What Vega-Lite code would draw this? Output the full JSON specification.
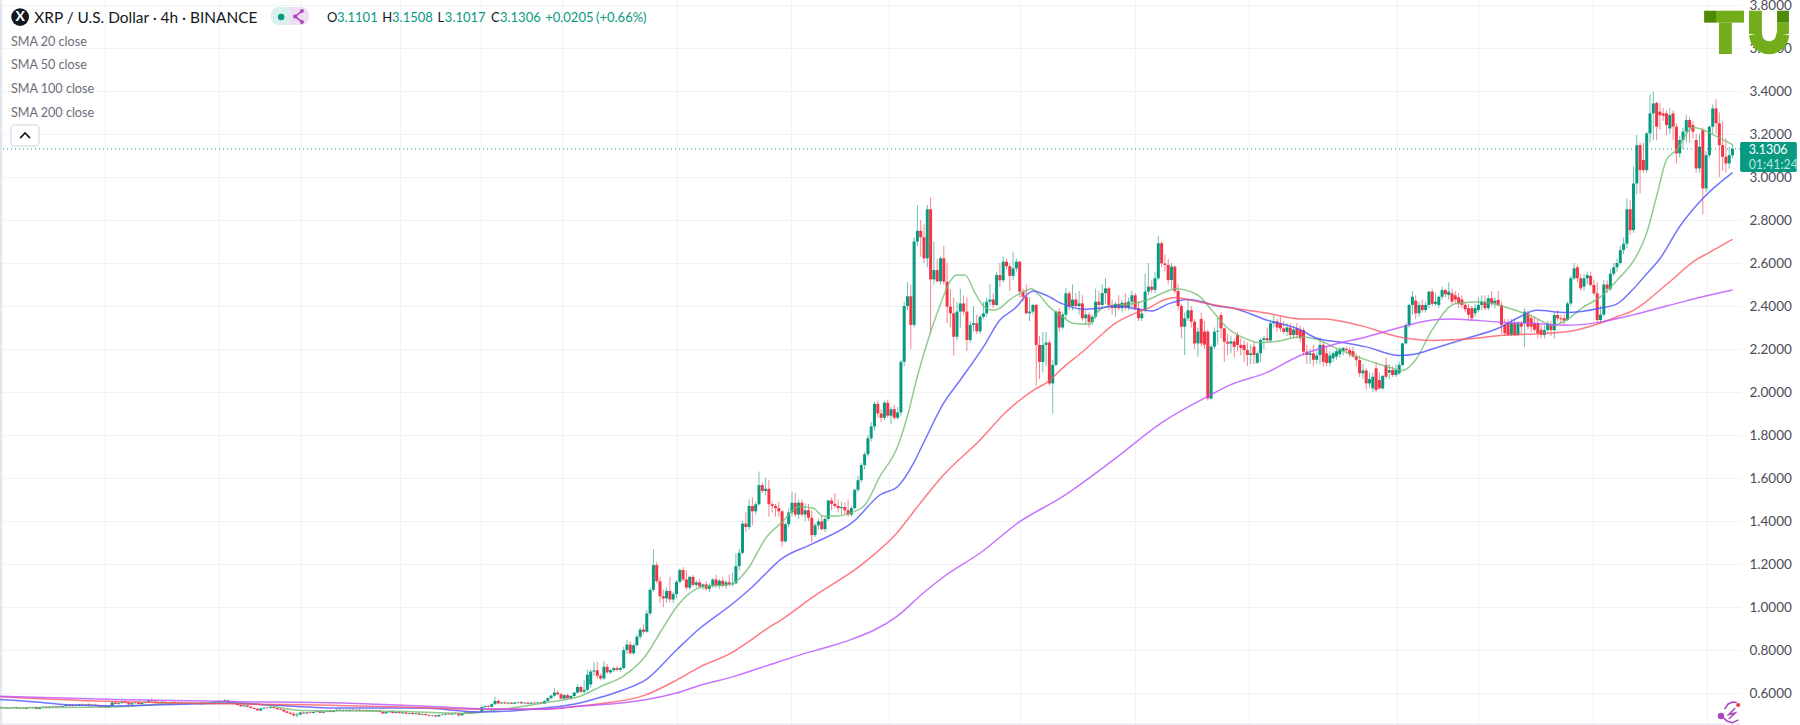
{
"$schema":"https://vega.github.io/schema/vega-lite/v6.json",
"description":"XRP / U.S. Dollar 4h candlesticks with SMA 20, 50, 100 and 200",
"width":1740,"height":725,
"autosize":{"type":"none"},
"padding":{"left":0,"top":0,"right":60,"bottom":0},
"background":"white",
"view":{"stroke":null},
"datasets":{
"candles":[
{"i":0,"o":0.535,"h":0.538,"l":0.526,"c":0.53},{"i":1,"o":0.53,"h":0.534,"l":0.527,"c":0.532},{"i":2,"o":0.532,"h":0.536,"l":0.528,"c":0.528},{"i":3,"o":0.528,"h":0.533,"l":0.526,"c":0.531},{"i":4,"o":0.531,"h":0.536,"l":0.529,"c":0.534},{"i":5,"o":0.534,"h":0.536,"l":0.526,"c":0.528},{"i":6,"o":0.528,"h":0.533,"l":0.524,"c":0.53},{"i":7,"o":0.53,"h":0.534,"l":0.527,"c":0.527},{"i":8,"o":0.527,"h":0.535,"l":0.525,"c":0.533},{"i":9,"o":0.533,"h":0.537,"l":0.53,"c":0.531},
{"i":10,"o":0.531,"h":0.536,"l":0.528,"c":0.535},{"i":11,"o":0.535,"h":0.538,"l":0.524,"c":0.526},{"i":12,"o":0.526,"h":0.536,"l":0.524,"c":0.534},{"i":13,"o":0.534,"h":0.539,"l":0.531,"c":0.536},{"i":14,"o":0.536,"h":0.54,"l":0.53,"c":0.532},{"i":15,"o":0.532,"h":0.538,"l":0.53,"c":0.537},{"i":16,"o":0.537,"h":0.541,"l":0.532,"c":0.534},{"i":17,"o":0.534,"h":0.54,"l":0.532,"c":0.538},{"i":18,"o":0.538,"h":0.542,"l":0.534,"c":0.535},{"i":19,"o":0.535,"h":0.54,"l":0.533,"c":0.539},
{"i":20,"o":0.539,"h":0.55,"l":0.536,"c":0.544},{"i":21,"o":0.544,"h":0.548,"l":0.538,"c":0.54},{"i":22,"o":0.54,"h":0.546,"l":0.537,"c":0.545},{"i":23,"o":0.545,"h":0.55,"l":0.54,"c":0.542},{"i":24,"o":0.542,"h":0.548,"l":0.54,"c":0.547},{"i":25,"o":0.547,"h":0.552,"l":0.543,"c":0.545},{"i":26,"o":0.545,"h":0.55,"l":0.542,"c":0.548},{"i":27,"o":0.548,"h":0.552,"l":0.543,"c":0.544},{"i":28,"o":0.544,"h":0.549,"l":0.54,"c":0.546},{"i":29,"o":0.546,"h":0.55,"l":0.54,"c":0.541},
{"i":30,"o":0.541,"h":0.546,"l":0.534,"c":0.536},{"i":31,"o":0.536,"h":0.543,"l":0.533,"c":0.541},{"i":32,"o":0.541,"h":0.546,"l":0.532,"c":0.534},{"i":33,"o":0.534,"h":0.542,"l":0.53,"c":0.54},{"i":34,"o":0.54,"h":0.562,"l":0.538,"c":0.556},{"i":35,"o":0.556,"h":0.562,"l":0.548,"c":0.55},{"i":36,"o":0.55,"h":0.557,"l":0.545,"c":0.555},{"i":37,"o":0.555,"h":0.566,"l":0.55,"c":0.56},{"i":38,"o":0.56,"h":0.566,"l":0.552,"c":0.555},{"i":39,"o":0.555,"h":0.558,"l":0.545,"c":0.547},
{"i":40,"o":0.547,"h":0.557,"l":0.544,"c":0.553},{"i":41,"o":0.553,"h":0.56,"l":0.55,"c":0.556},{"i":42,"o":0.556,"h":0.56,"l":0.546,"c":0.549},{"i":43,"o":0.549,"h":0.558,"l":0.547,"c":0.555},{"i":44,"o":0.555,"h":0.562,"l":0.552,"c":0.558},{"i":45,"o":0.558,"h":0.572,"l":0.555,"c":0.564},{"i":46,"o":0.564,"h":0.574,"l":0.558,"c":0.561},{"i":47,"o":0.561,"h":0.566,"l":0.552,"c":0.556},{"i":48,"o":0.556,"h":0.563,"l":0.55,"c":0.552},{"i":49,"o":0.552,"h":0.562,"l":0.55,"c":0.559},
{"i":50,"o":0.559,"h":0.565,"l":0.552,"c":0.554},{"i":51,"o":0.554,"h":0.56,"l":0.549,"c":0.551},{"i":52,"o":0.551,"h":0.561,"l":0.549,"c":0.558},{"i":53,"o":0.558,"h":0.565,"l":0.552,"c":0.553},{"i":54,"o":0.553,"h":0.56,"l":0.55,"c":0.556},{"i":55,"o":0.556,"h":0.56,"l":0.548,"c":0.55},{"i":56,"o":0.55,"h":0.557,"l":0.547,"c":0.555},{"i":57,"o":0.555,"h":0.558,"l":0.548,"c":0.549},{"i":58,"o":0.549,"h":0.556,"l":0.546,"c":0.554},{"i":59,"o":0.554,"h":0.558,"l":0.547,"c":0.549},
{"i":60,"o":0.549,"h":0.555,"l":0.545,"c":0.552},{"i":61,"o":0.552,"h":0.557,"l":0.546,"c":0.548},{"i":62,"o":0.548,"h":0.556,"l":0.546,"c":0.554},{"i":63,"o":0.554,"h":0.558,"l":0.549,"c":0.55},{"i":64,"o":0.55,"h":0.559,"l":0.548,"c":0.556},{"i":65,"o":0.556,"h":0.563,"l":0.552,"c":0.56},{"i":66,"o":0.56,"h":0.568,"l":0.556,"c":0.557},{"i":67,"o":0.557,"h":0.566,"l":0.555,"c":0.563},{"i":68,"o":0.563,"h":0.572,"l":0.558,"c":0.566},{"i":69,"o":0.566,"h":0.568,"l":0.555,"c":0.557},
{"i":70,"o":0.557,"h":0.562,"l":0.552,"c":0.56},{"i":71,"o":0.56,"h":0.563,"l":0.552,"c":0.553},{"i":72,"o":0.553,"h":0.558,"l":0.542,"c":0.544},{"i":73,"o":0.544,"h":0.55,"l":0.536,"c":0.538},{"i":74,"o":0.538,"h":0.545,"l":0.534,"c":0.542},{"i":75,"o":0.542,"h":0.546,"l":0.534,"c":0.536},{"i":76,"o":0.536,"h":0.54,"l":0.528,"c":0.53},{"i":77,"o":0.53,"h":0.534,"l":0.524,"c":0.526},{"i":78,"o":0.526,"h":0.532,"l":0.516,"c":0.519},{"i":79,"o":0.519,"h":0.531,"l":0.517,"c":0.528},
{"i":80,"o":0.528,"h":0.535,"l":0.524,"c":0.532},{"i":81,"o":0.532,"h":0.536,"l":0.526,"c":0.53},{"i":82,"o":0.53,"h":0.536,"l":0.528,"c":0.534},{"i":83,"o":0.534,"h":0.538,"l":0.528,"c":0.53},{"i":84,"o":0.53,"h":0.533,"l":0.522,"c":0.525},{"i":85,"o":0.525,"h":0.53,"l":0.52,"c":0.522},{"i":86,"o":0.522,"h":0.526,"l":0.512,"c":0.514},{"i":87,"o":0.514,"h":0.52,"l":0.506,"c":0.508},{"i":88,"o":0.508,"h":0.514,"l":0.5,"c":0.503},{"i":89,"o":0.503,"h":0.51,"l":0.49,"c":0.496},
{"i":90,"o":0.496,"h":0.508,"l":0.486,"c":0.5},{"i":91,"o":0.5,"h":0.512,"l":0.497,"c":0.509},{"i":92,"o":0.509,"h":0.514,"l":0.503,"c":0.505},{"i":93,"o":0.505,"h":0.512,"l":0.503,"c":0.51},{"i":94,"o":0.51,"h":0.515,"l":0.505,"c":0.507},{"i":95,"o":0.507,"h":0.514,"l":0.505,"c":0.512},{"i":96,"o":0.512,"h":0.518,"l":0.508,"c":0.515},{"i":97,"o":0.515,"h":0.52,"l":0.506,"c":0.508},{"i":98,"o":0.508,"h":0.516,"l":0.506,"c":0.514},{"i":99,"o":0.514,"h":0.52,"l":0.51,"c":0.517},
{"i":100,"o":0.517,"h":0.522,"l":0.51,"c":0.512},{"i":101,"o":0.512,"h":0.52,"l":0.51,"c":0.518},{"i":102,"o":0.518,"h":0.526,"l":0.514,"c":0.522},{"i":103,"o":0.522,"h":0.528,"l":0.516,"c":0.518},{"i":104,"o":0.518,"h":0.524,"l":0.514,"c":0.521},{"i":105,"o":0.521,"h":0.526,"l":0.516,"c":0.517},{"i":106,"o":0.517,"h":0.524,"l":0.514,"c":0.522},{"i":107,"o":0.522,"h":0.528,"l":0.518,"c":0.519},{"i":108,"o":0.519,"h":0.524,"l":0.514,"c":0.522},{"i":109,"o":0.522,"h":0.526,"l":0.516,"c":0.517},
{"i":110,"o":0.517,"h":0.522,"l":0.514,"c":0.52},{"i":111,"o":0.52,"h":0.524,"l":0.515,"c":0.516},{"i":112,"o":0.516,"h":0.522,"l":0.513,"c":0.519},{"i":113,"o":0.519,"h":0.523,"l":0.514,"c":0.515},{"i":114,"o":0.515,"h":0.52,"l":0.512,"c":0.518},{"i":115,"o":0.518,"h":0.521,"l":0.512,"c":0.513},{"i":116,"o":0.513,"h":0.516,"l":0.502,"c":0.505},{"i":117,"o":0.505,"h":0.514,"l":0.503,"c":0.511},{"i":118,"o":0.511,"h":0.517,"l":0.507,"c":0.514},{"i":119,"o":0.514,"h":0.518,"l":0.505,"c":0.507},
{"i":120,"o":0.507,"h":0.513,"l":0.504,"c":0.511},{"i":121,"o":0.511,"h":0.515,"l":0.505,"c":0.506},{"i":122,"o":0.506,"h":0.512,"l":0.503,"c":0.51},{"i":123,"o":0.51,"h":0.513,"l":0.502,"c":0.504},{"i":124,"o":0.504,"h":0.51,"l":0.5,"c":0.507},{"i":125,"o":0.507,"h":0.51,"l":0.5,"c":0.502},{"i":126,"o":0.502,"h":0.508,"l":0.498,"c":0.505},{"i":127,"o":0.505,"h":0.509,"l":0.497,"c":0.499},{"i":128,"o":0.499,"h":0.505,"l":0.494,"c":0.502},{"i":129,"o":0.502,"h":0.506,"l":0.495,"c":0.497},
{"i":130,"o":0.497,"h":0.502,"l":0.49,"c":0.494},{"i":131,"o":0.494,"h":0.5,"l":0.488,"c":0.496},{"i":132,"o":0.496,"h":0.5,"l":0.487,"c":0.491},{"i":133,"o":0.491,"h":0.5,"l":0.489,"c":0.498},{"i":134,"o":0.498,"h":0.503,"l":0.494,"c":0.5},{"i":135,"o":0.5,"h":0.506,"l":0.495,"c":0.503},{"i":136,"o":0.503,"h":0.508,"l":0.498,"c":0.5},{"i":137,"o":0.5,"h":0.508,"l":0.498,"c":0.505},{"i":138,"o":0.505,"h":0.512,"l":0.5,"c":0.502},{"i":139,"o":0.502,"h":0.51,"l":0.49,"c":0.496},
{"i":140,"o":0.496,"h":0.508,"l":0.494,"c":0.506},{"i":141,"o":0.506,"h":0.514,"l":0.502,"c":0.51},{"i":142,"o":0.51,"h":0.516,"l":0.503,"c":0.505},{"i":143,"o":0.505,"h":0.514,"l":0.503,"c":0.512},{"i":144,"o":0.512,"h":0.518,"l":0.504,"c":0.507},{"i":145,"o":0.507,"h":0.515,"l":0.505,"c":0.512},{"i":146,"o":0.512,"h":0.54,"l":0.51,"c":0.535},{"i":147,"o":0.535,"h":0.544,"l":0.53,"c":0.539},{"i":148,"o":0.539,"h":0.544,"l":0.532,"c":0.536},{"i":149,"o":0.536,"h":0.552,"l":0.534,"c":0.548},
{"i":150,"o":0.548,"h":0.583,"l":0.545,"c":0.563},{"i":151,"o":0.563,"h":0.57,"l":0.548,"c":0.552},{"i":152,"o":0.552,"h":0.558,"l":0.548,"c":0.556},{"i":153,"o":0.556,"h":0.562,"l":0.55,"c":0.551},{"i":154,"o":0.551,"h":0.557,"l":0.547,"c":0.555},{"i":155,"o":0.555,"h":0.558,"l":0.549,"c":0.55},{"i":156,"o":0.55,"h":0.558,"l":0.548,"c":0.556},{"i":157,"o":0.556,"h":0.56,"l":0.55,"c":0.558},{"i":158,"o":0.558,"h":0.562,"l":0.55,"c":0.552},{"i":159,"o":0.552,"h":0.558,"l":0.548,"c":0.555},
{"i":160,"o":0.555,"h":0.559,"l":0.549,"c":0.55},{"i":161,"o":0.55,"h":0.558,"l":0.548,"c":0.555},{"i":162,"o":0.555,"h":0.56,"l":0.55,"c":0.552},{"i":163,"o":0.552,"h":0.558,"l":0.549,"c":0.556},{"i":164,"o":0.556,"h":0.56,"l":0.55,"c":0.551},{"i":165,"o":0.551,"h":0.566,"l":0.549,"c":0.563},{"i":166,"o":0.563,"h":0.58,"l":0.558,"c":0.576},{"i":167,"o":0.576,"h":0.592,"l":0.57,"c":0.588},{"i":168,"o":0.588,"h":0.622,"l":0.582,"c":0.602},{"i":169,"o":0.602,"h":0.612,"l":0.59,"c":0.594},
{"i":170,"o":0.594,"h":0.6,"l":0.57,"c":0.574},{"i":171,"o":0.574,"h":0.594,"l":0.57,"c":0.59},{"i":172,"o":0.59,"h":0.596,"l":0.572,"c":0.576},{"i":173,"o":0.576,"h":0.59,"l":0.572,"c":0.586},{"i":174,"o":0.586,"h":0.606,"l":0.582,"c":0.602},{"i":175,"o":0.602,"h":0.64,"l":0.598,"c":0.628},{"i":176,"o":0.628,"h":0.634,"l":0.6,"c":0.606},{"i":177,"o":0.606,"h":0.66,"l":0.6,"c":0.615},{"i":178,"o":0.615,"h":0.71,"l":0.61,"c":0.685},{"i":179,"o":0.64,"h":0.71,"l":0.625,"c":0.7},
{"i":180,"o":0.7,"h":0.745,"l":0.68,"c":0.705},{"i":181,"o":0.705,"h":0.746,"l":0.668,"c":0.68},{"i":182,"o":0.68,"h":0.69,"l":0.66,"c":0.668},{"i":183,"o":0.668,"h":0.75,"l":0.66,"c":0.722},{"i":184,"o":0.722,"h":0.735,"l":0.69,"c":0.696},{"i":185,"o":0.696,"h":0.712,"l":0.688,"c":0.706},{"i":186,"o":0.706,"h":0.722,"l":0.698,"c":0.716},{"i":187,"o":0.716,"h":0.728,"l":0.7,"c":0.708},{"i":188,"o":0.708,"h":0.722,"l":0.7,"c":0.716},{"i":189,"o":0.716,"h":0.815,"l":0.71,"c":0.8},
{"i":190,"o":0.8,"h":0.846,"l":0.782,"c":0.825},{"i":191,"o":0.825,"h":0.84,"l":0.78,"c":0.785},{"i":192,"o":0.785,"h":0.83,"l":0.778,"c":0.822},{"i":193,"o":0.822,"h":0.872,"l":0.815,"c":0.862},{"i":194,"o":0.862,"h":0.905,"l":0.85,"c":0.895},{"i":195,"o":0.895,"h":0.92,"l":0.875,"c":0.885},{"i":196,"o":0.885,"h":0.985,"l":0.88,"c":0.97},{"i":197,"o":0.97,"h":1.09,"l":0.96,"c":1.08},{"i":198,"o":1.08,"h":1.27,"l":1.07,"c":1.195},{"i":199,"o":1.195,"h":1.21,"l":1.11,"c":1.12},
{"i":200,"o":1.12,"h":1.14,"l":1.02,"c":1.05},{"i":201,"o":1.05,"h":1.08,"l":1.0,"c":1.04},{"i":202,"o":1.04,"h":1.09,"l":1.02,"c":1.075},{"i":203,"o":1.075,"h":1.14,"l":1.02,"c":1.035},{"i":204,"o":1.035,"h":1.07,"l":1.02,"c":1.06},{"i":205,"o":1.06,"h":1.125,"l":1.04,"c":1.117},{"i":206,"o":1.117,"h":1.18,"l":1.11,"c":1.172},{"i":207,"o":1.172,"h":1.185,"l":1.12,"c":1.128},{"i":208,"o":1.128,"h":1.17,"l":1.08,"c":1.09},{"i":209,"o":1.09,"h":1.145,"l":1.08,"c":1.14},
{"i":210,"o":1.14,"h":1.15,"l":1.095,"c":1.103},{"i":211,"o":1.103,"h":1.125,"l":1.09,"c":1.115},{"i":212,"o":1.115,"h":1.13,"l":1.09,"c":1.095},{"i":213,"o":1.095,"h":1.11,"l":1.08,"c":1.105},{"i":214,"o":1.105,"h":1.12,"l":1.075,"c":1.085},{"i":215,"o":1.085,"h":1.11,"l":1.07,"c":1.1},{"i":216,"o":1.1,"h":1.135,"l":1.09,"c":1.128},{"i":217,"o":1.128,"h":1.15,"l":1.09,"c":1.098},{"i":218,"o":1.098,"h":1.13,"l":1.085,"c":1.122},{"i":219,"o":1.122,"h":1.14,"l":1.09,"c":1.1},
{"i":220,"o":1.1,"h":1.125,"l":1.085,"c":1.115},{"i":221,"o":1.115,"h":1.15,"l":1.095,"c":1.105},{"i":222,"o":1.105,"h":1.16,"l":1.095,"c":1.11},{"i":223,"o":1.11,"h":1.25,"l":1.105,"c":1.19},{"i":224,"o":1.19,"h":1.27,"l":1.17,"c":1.252},{"i":225,"o":1.252,"h":1.4,"l":1.245,"c":1.388},{"i":226,"o":1.388,"h":1.44,"l":1.35,"c":1.372},{"i":227,"o":1.372,"h":1.5,"l":1.36,"c":1.47},{"i":228,"o":1.47,"h":1.51,"l":1.38,"c":1.445},{"i":229,"o":1.445,"h":1.49,"l":1.43,"c":1.478},
{"i":230,"o":1.478,"h":1.63,"l":1.47,"c":1.567},{"i":231,"o":1.567,"h":1.58,"l":1.53,"c":1.54},{"i":232,"o":1.54,"h":1.6,"l":1.52,"c":1.55},{"i":233,"o":1.55,"h":1.59,"l":1.42,"c":1.478},{"i":234,"o":1.478,"h":1.49,"l":1.44,"c":1.47},{"i":235,"o":1.47,"h":1.48,"l":1.42,"c":1.46},{"i":236,"o":1.46,"h":1.49,"l":1.42,"c":1.445},{"i":237,"o":1.445,"h":1.45,"l":1.28,"c":1.305},{"i":238,"o":1.305,"h":1.395,"l":1.3,"c":1.385},{"i":239,"o":1.385,"h":1.46,"l":1.37,"c":1.44},
{"i":240,"o":1.44,"h":1.536,"l":1.42,"c":1.485},{"i":241,"o":1.485,"h":1.53,"l":1.42,"c":1.43},{"i":242,"o":1.43,"h":1.5,"l":1.41,"c":1.485},{"i":243,"o":1.485,"h":1.5,"l":1.42,"c":1.43},{"i":244,"o":1.43,"h":1.48,"l":1.4,"c":1.45},{"i":245,"o":1.45,"h":1.48,"l":1.4,"c":1.415},{"i":246,"o":1.415,"h":1.45,"l":1.3,"c":1.335},{"i":247,"o":1.335,"h":1.39,"l":1.325,"c":1.38},{"i":248,"o":1.38,"h":1.41,"l":1.36,"c":1.398},{"i":249,"o":1.398,"h":1.425,"l":1.355,"c":1.362},
{"i":250,"o":1.362,"h":1.42,"l":1.35,"c":1.41},{"i":251,"o":1.41,"h":1.5,"l":1.4,"c":1.495},{"i":252,"o":1.495,"h":1.51,"l":1.45,"c":1.48},{"i":253,"o":1.48,"h":1.53,"l":1.46,"c":1.47},{"i":254,"o":1.47,"h":1.5,"l":1.44,"c":1.46},{"i":255,"o":1.46,"h":1.49,"l":1.43,"c":1.465},{"i":256,"o":1.465,"h":1.485,"l":1.43,"c":1.45},{"i":257,"o":1.45,"h":1.5,"l":1.42,"c":1.43},{"i":258,"o":1.43,"h":1.47,"l":1.42,"c":1.46},{"i":259,"o":1.46,"h":1.55,"l":1.455,"c":1.545},
{"i":260,"o":1.545,"h":1.61,"l":1.535,"c":1.59},{"i":261,"o":1.59,"h":1.67,"l":1.58,"c":1.66},{"i":262,"o":1.66,"h":1.72,"l":1.64,"c":1.71},{"i":263,"o":1.71,"h":1.8,"l":1.7,"c":1.785},{"i":264,"o":1.785,"h":1.86,"l":1.77,"c":1.84},{"i":265,"o":1.84,"h":1.955,"l":1.82,"c":1.945},{"i":266,"o":1.945,"h":1.96,"l":1.88,"c":1.9},{"i":267,"o":1.9,"h":1.92,"l":1.86,"c":1.88},{"i":268,"o":1.88,"h":1.96,"l":1.87,"c":1.95},{"i":269,"o":1.95,"h":1.965,"l":1.88,"c":1.89},
{"i":270,"o":1.89,"h":1.93,"l":1.85,"c":1.92},{"i":271,"o":1.92,"h":1.94,"l":1.87,"c":1.88},{"i":272,"o":1.88,"h":1.93,"l":1.87,"c":1.905},{"i":273,"o":1.905,"h":2.15,"l":1.89,"c":2.14},{"i":274,"o":2.14,"h":2.42,"l":2.12,"c":2.4},{"i":275,"o":2.4,"h":2.51,"l":2.38,"c":2.445},{"i":276,"o":2.445,"h":2.5,"l":2.2,"c":2.312},{"i":277,"o":2.312,"h":2.72,"l":2.3,"c":2.7},{"i":278,"o":2.7,"h":2.87,"l":2.68,"c":2.75},{"i":279,"o":2.75,"h":2.8,"l":2.63,"c":2.72},
{"i":280,"o":2.72,"h":2.78,"l":2.6,"c":2.622},{"i":281,"o":2.622,"h":2.87,"l":2.58,"c":2.85},{"i":282,"o":2.85,"h":2.905,"l":2.27,"c":2.524},{"i":283,"o":2.524,"h":2.7,"l":2.5,"c":2.567},{"i":284,"o":2.567,"h":2.62,"l":2.51,"c":2.515},{"i":285,"o":2.515,"h":2.63,"l":2.5,"c":2.622},{"i":286,"o":2.622,"h":2.68,"l":2.5,"c":2.513},{"i":287,"o":2.513,"h":2.6,"l":2.32,"c":2.397},{"i":288,"o":2.397,"h":2.48,"l":2.3,"c":2.366},{"i":289,"o":2.366,"h":2.44,"l":2.17,"c":2.257},
{"i":290,"o":2.257,"h":2.42,"l":2.24,"c":2.374},{"i":291,"o":2.374,"h":2.48,"l":2.3,"c":2.412},{"i":292,"o":2.412,"h":2.45,"l":2.36,"c":2.374},{"i":293,"o":2.374,"h":2.44,"l":2.19,"c":2.242},{"i":294,"o":2.242,"h":2.33,"l":2.23,"c":2.312},{"i":295,"o":2.312,"h":2.4,"l":2.28,"c":2.32},{"i":296,"o":2.32,"h":2.36,"l":2.27,"c":2.282},{"i":297,"o":2.282,"h":2.36,"l":2.27,"c":2.35},{"i":298,"o":2.35,"h":2.42,"l":2.34,"c":2.366},{"i":299,"o":2.366,"h":2.44,"l":2.35,"c":2.42},
{"i":300,"o":2.42,"h":2.5,"l":2.4,"c":2.43},{"i":301,"o":2.43,"h":2.46,"l":2.39,"c":2.405},{"i":302,"o":2.405,"h":2.56,"l":2.4,"c":2.544},{"i":303,"o":2.544,"h":2.6,"l":2.49,"c":2.52},{"i":304,"o":2.52,"h":2.63,"l":2.51,"c":2.606},{"i":305,"o":2.606,"h":2.62,"l":2.57,"c":2.585},{"i":306,"o":2.585,"h":2.6,"l":2.47,"c":2.54},{"i":307,"o":2.54,"h":2.65,"l":2.52,"c":2.575},{"i":308,"o":2.575,"h":2.62,"l":2.56,"c":2.606},{"i":309,"o":2.606,"h":2.61,"l":2.44,"c":2.467},
{"i":310,"o":2.467,"h":2.48,"l":2.42,"c":2.443},{"i":311,"o":2.443,"h":2.5,"l":2.36,"c":2.366},{"i":312,"o":2.366,"h":2.44,"l":2.33,"c":2.374},{"i":313,"o":2.374,"h":2.41,"l":2.36,"c":2.405},{"i":314,"o":2.405,"h":2.41,"l":2.03,"c":2.219},{"i":315,"o":2.219,"h":2.26,"l":2.06,"c":2.14},{"i":316,"o":2.14,"h":2.28,"l":2.09,"c":2.219},{"i":317,"o":2.219,"h":2.28,"l":2.12,"c":2.23},{"i":318,"o":2.23,"h":2.24,"l":2.03,"c":2.04},{"i":319,"o":2.04,"h":2.15,"l":1.9,"c":2.126},
{"i":320,"o":2.126,"h":2.38,"l":2.12,"c":2.374},{"i":321,"o":2.374,"h":2.39,"l":2.28,"c":2.3},{"i":322,"o":2.3,"h":2.37,"l":2.29,"c":2.36},{"i":323,"o":2.36,"h":2.485,"l":2.34,"c":2.459},{"i":324,"o":2.459,"h":2.47,"l":2.38,"c":2.4},{"i":325,"o":2.4,"h":2.5,"l":2.38,"c":2.43},{"i":326,"o":2.43,"h":2.46,"l":2.39,"c":2.4},{"i":327,"o":2.4,"h":2.47,"l":2.36,"c":2.412},{"i":328,"o":2.412,"h":2.45,"l":2.33,"c":2.343},{"i":329,"o":2.343,"h":2.38,"l":2.31,"c":2.36},
{"i":330,"o":2.36,"h":2.37,"l":2.3,"c":2.325},{"i":331,"o":2.325,"h":2.36,"l":2.31,"c":2.35},{"i":332,"o":2.35,"h":2.48,"l":2.34,"c":2.42},{"i":333,"o":2.42,"h":2.47,"l":2.37,"c":2.405},{"i":334,"o":2.405,"h":2.5,"l":2.39,"c":2.46},{"i":335,"o":2.46,"h":2.53,"l":2.41,"c":2.482},{"i":336,"o":2.482,"h":2.49,"l":2.38,"c":2.405},{"i":337,"o":2.405,"h":2.43,"l":2.36,"c":2.39},{"i":338,"o":2.39,"h":2.42,"l":2.35,"c":2.41},{"i":339,"o":2.41,"h":2.45,"l":2.38,"c":2.39},
{"i":340,"o":2.39,"h":2.43,"l":2.37,"c":2.415},{"i":341,"o":2.415,"h":2.46,"l":2.38,"c":2.395},{"i":342,"o":2.395,"h":2.44,"l":2.38,"c":2.42},{"i":343,"o":2.42,"h":2.47,"l":2.39,"c":2.45},{"i":344,"o":2.45,"h":2.46,"l":2.38,"c":2.39},{"i":345,"o":2.39,"h":2.42,"l":2.33,"c":2.343},{"i":346,"o":2.343,"h":2.39,"l":2.33,"c":2.365},{"i":347,"o":2.381,"h":2.55,"l":2.37,"c":2.467},{"i":348,"o":2.467,"h":2.6,"l":2.45,"c":2.49},{"i":349,"o":2.49,"h":2.52,"l":2.46,"c":2.475},
{"i":350,"o":2.475,"h":2.56,"l":2.46,"c":2.529},{"i":351,"o":2.529,"h":2.726,"l":2.52,"c":2.692},{"i":352,"o":2.692,"h":2.7,"l":2.58,"c":2.598},{"i":353,"o":2.598,"h":2.64,"l":2.56,"c":2.591},{"i":354,"o":2.591,"h":2.62,"l":2.5,"c":2.521},{"i":355,"o":2.521,"h":2.6,"l":2.48,"c":2.583},{"i":356,"o":2.583,"h":2.59,"l":2.46,"c":2.47},{"i":357,"o":2.47,"h":2.5,"l":2.38,"c":2.4},{"i":358,"o":2.4,"h":2.41,"l":2.25,"c":2.304},{"i":359,"o":2.304,"h":2.37,"l":2.172,"c":2.343},
{"i":360,"o":2.343,"h":2.43,"l":2.33,"c":2.38},{"i":361,"o":2.38,"h":2.4,"l":2.3,"c":2.327},{"i":362,"o":2.327,"h":2.34,"l":2.2,"c":2.226},{"i":363,"o":2.226,"h":2.3,"l":2.164,"c":2.281},{"i":364,"o":2.34,"h":2.37,"l":2.21,"c":2.226},{"i":365,"o":2.281,"h":2.33,"l":2.2,"c":2.22},{"i":366,"o":2.281,"h":2.29,"l":1.96,"c":1.97},{"i":367,"o":1.97,"h":2.22,"l":1.963,"c":2.211},{"i":368,"o":2.211,"h":2.3,"l":2.2,"c":2.281},{"i":369,"o":2.281,"h":2.35,"l":2.22,"c":2.285},
{"i":370,"o":2.358,"h":2.37,"l":2.25,"c":2.296},{"i":371,"o":2.296,"h":2.3,"l":2.14,"c":2.234},{"i":372,"o":2.234,"h":2.27,"l":2.17,"c":2.225},{"i":373,"o":2.225,"h":2.26,"l":2.18,"c":2.235},{"i":374,"o":2.235,"h":2.25,"l":2.16,"c":2.21},{"i":375,"o":2.265,"h":2.28,"l":2.19,"c":2.219},{"i":376,"o":2.219,"h":2.25,"l":2.17,"c":2.205},{"i":377,"o":2.219,"h":2.24,"l":2.14,"c":2.195},{"i":378,"o":2.195,"h":2.23,"l":2.12,"c":2.172},{"i":379,"o":2.172,"h":2.22,"l":2.13,"c":2.18},
{"i":380,"o":2.211,"h":2.23,"l":2.13,"c":2.172},{"i":381,"o":2.136,"h":2.19,"l":2.13,"c":2.18},{"i":382,"o":2.18,"h":2.25,"l":2.14,"c":2.242},{"i":383,"o":2.242,"h":2.26,"l":2.2,"c":2.25},{"i":384,"o":2.25,"h":2.3,"l":2.23,"c":2.24},{"i":385,"o":2.24,"h":2.33,"l":2.23,"c":2.32},{"i":386,"o":2.32,"h":2.36,"l":2.3,"c":2.328},{"i":387,"o":2.328,"h":2.34,"l":2.28,"c":2.3},{"i":388,"o":2.32,"h":2.35,"l":2.28,"c":2.296},{"i":389,"o":2.296,"h":2.33,"l":2.27,"c":2.28},
{"i":390,"o":2.28,"h":2.32,"l":2.26,"c":2.3},{"i":391,"o":2.3,"h":2.32,"l":2.25,"c":2.265},{"i":392,"o":2.265,"h":2.31,"l":2.25,"c":2.29},{"i":393,"o":2.296,"h":2.32,"l":2.25,"c":2.265},{"i":394,"o":2.29,"h":2.31,"l":2.23,"c":2.25},{"i":395,"o":2.288,"h":2.3,"l":2.17,"c":2.188},{"i":396,"o":2.188,"h":2.22,"l":2.13,"c":2.172},{"i":397,"o":2.172,"h":2.2,"l":2.13,"c":2.18},{"i":398,"o":2.18,"h":2.22,"l":2.12,"c":2.15},{"i":399,"o":2.15,"h":2.19,"l":2.13,"c":2.17},
{"i":400,"o":2.172,"h":2.25,"l":2.13,"c":2.219},{"i":401,"o":2.219,"h":2.23,"l":2.12,"c":2.14},{"i":402,"o":2.18,"h":2.21,"l":2.12,"c":2.135},{"i":403,"o":2.135,"h":2.19,"l":2.12,"c":2.17},{"i":404,"o":2.157,"h":2.19,"l":2.14,"c":2.18},{"i":405,"o":2.165,"h":2.2,"l":2.15,"c":2.19},{"i":406,"o":2.175,"h":2.21,"l":2.16,"c":2.2},{"i":407,"o":2.19,"h":2.21,"l":2.17,"c":2.205},{"i":408,"o":2.2,"h":2.21,"l":2.18,"c":2.195},{"i":409,"o":2.195,"h":2.21,"l":2.16,"c":2.175},
{"i":410,"o":2.19,"h":2.21,"l":2.16,"c":2.165},{"i":411,"o":2.165,"h":2.18,"l":2.12,"c":2.15},{"i":412,"o":2.149,"h":2.17,"l":2.07,"c":2.087},{"i":413,"o":2.087,"h":2.13,"l":2.06,"c":2.1},{"i":414,"o":2.1,"h":2.11,"l":2.01,"c":2.04},{"i":415,"o":2.04,"h":2.09,"l":2.02,"c":2.06},{"i":416,"o":2.017,"h":2.09,"l":2.0,"c":2.071},{"i":417,"o":2.11,"h":2.14,"l":2.0,"c":2.009},{"i":418,"o":2.056,"h":2.09,"l":2.01,"c":2.017},{"i":419,"o":2.017,"h":2.08,"l":2.01,"c":2.075},
{"i":420,"o":2.126,"h":2.16,"l":2.06,"c":2.071},{"i":421,"o":2.09,"h":2.13,"l":2.06,"c":2.102},{"i":422,"o":2.102,"h":2.12,"l":2.07,"c":2.079},{"i":423,"o":2.079,"h":2.13,"l":2.07,"c":2.102},{"i":424,"o":2.087,"h":2.14,"l":2.08,"c":2.126},{"i":425,"o":2.126,"h":2.23,"l":2.12,"c":2.226},{"i":426,"o":2.226,"h":2.32,"l":2.22,"c":2.312},{"i":427,"o":2.312,"h":2.41,"l":2.3,"c":2.405},{"i":428,"o":2.405,"h":2.47,"l":2.36,"c":2.443},{"i":429,"o":2.425,"h":2.45,"l":2.34,"c":2.366},
{"i":430,"o":2.366,"h":2.42,"l":2.35,"c":2.405},{"i":431,"o":2.405,"h":2.43,"l":2.37,"c":2.381},{"i":432,"o":2.381,"h":2.42,"l":2.37,"c":2.405},{"i":433,"o":2.405,"h":2.47,"l":2.39,"c":2.467},{"i":434,"o":2.467,"h":2.48,"l":2.4,"c":2.41},{"i":435,"o":2.41,"h":2.46,"l":2.4,"c":2.42},{"i":436,"o":2.405,"h":2.45,"l":2.39,"c":2.443},{"i":437,"o":2.443,"h":2.49,"l":2.43,"c":2.474},{"i":438,"o":2.474,"h":2.48,"l":2.44,"c":2.455},{"i":439,"o":2.451,"h":2.51,"l":2.43,"c":2.467},
{"i":440,"o":2.459,"h":2.48,"l":2.41,"c":2.42},{"i":441,"o":2.45,"h":2.47,"l":2.41,"c":2.43},{"i":442,"o":2.44,"h":2.46,"l":2.39,"c":2.412},{"i":443,"o":2.43,"h":2.45,"l":2.39,"c":2.405},{"i":444,"o":2.405,"h":2.42,"l":2.37,"c":2.384},{"i":445,"o":2.39,"h":2.41,"l":2.34,"c":2.36},{"i":446,"o":2.39,"h":2.4,"l":2.33,"c":2.343},{"i":447,"o":2.366,"h":2.41,"l":2.35,"c":2.39},{"i":448,"o":2.381,"h":2.44,"l":2.37,"c":2.405},{"i":449,"o":2.405,"h":2.45,"l":2.38,"c":2.42},
{"i":450,"o":2.42,"h":2.45,"l":2.38,"c":2.39},{"i":451,"o":2.39,"h":2.45,"l":2.38,"c":2.436},{"i":452,"o":2.436,"h":2.47,"l":2.4,"c":2.412},{"i":453,"o":2.412,"h":2.44,"l":2.39,"c":2.425},{"i":454,"o":2.428,"h":2.47,"l":2.4,"c":2.405},{"i":455,"o":2.405,"h":2.42,"l":2.27,"c":2.312},{"i":456,"o":2.312,"h":2.34,"l":2.26,"c":2.273},{"i":457,"o":2.32,"h":2.34,"l":2.26,"c":2.265},{"i":458,"o":2.265,"h":2.34,"l":2.26,"c":2.32},{"i":459,"o":2.32,"h":2.34,"l":2.26,"c":2.265},
{"i":460,"o":2.265,"h":2.33,"l":2.26,"c":2.32},{"i":461,"o":2.32,"h":2.33,"l":2.27,"c":2.304},{"i":462,"o":2.32,"h":2.39,"l":2.21,"c":2.374},{"i":463,"o":2.366,"h":2.38,"l":2.29,"c":2.304},{"i":464,"o":2.343,"h":2.36,"l":2.28,"c":2.304},{"i":465,"o":2.32,"h":2.35,"l":2.28,"c":2.29},{"i":466,"o":2.32,"h":2.34,"l":2.25,"c":2.273},{"i":467,"o":2.29,"h":2.31,"l":2.25,"c":2.265},{"i":468,"o":2.265,"h":2.31,"l":2.25,"c":2.288},{"i":469,"o":2.288,"h":2.33,"l":2.27,"c":2.32},
{"i":470,"o":2.312,"h":2.33,"l":2.26,"c":2.288},{"i":471,"o":2.288,"h":2.37,"l":2.25,"c":2.358},{"i":472,"o":2.358,"h":2.38,"l":2.33,"c":2.343},{"i":473,"o":2.343,"h":2.36,"l":2.32,"c":2.338},{"i":474,"o":2.343,"h":2.36,"l":2.31,"c":2.332},{"i":475,"o":2.335,"h":2.42,"l":2.33,"c":2.412},{"i":476,"o":2.412,"h":2.54,"l":2.4,"c":2.529},{"i":477,"o":2.529,"h":2.6,"l":2.52,"c":2.575},{"i":478,"o":2.58,"h":2.59,"l":2.51,"c":2.529},{"i":479,"o":2.529,"h":2.55,"l":2.47,"c":2.482},
{"i":480,"o":2.49,"h":2.55,"l":2.47,"c":2.529},{"i":481,"o":2.529,"h":2.56,"l":2.5,"c":2.544},{"i":482,"o":2.54,"h":2.56,"l":2.49,"c":2.498},{"i":483,"o":2.498,"h":2.52,"l":2.45,"c":2.459},{"i":484,"o":2.459,"h":2.51,"l":2.32,"c":2.335},{"i":485,"o":2.335,"h":2.4,"l":2.32,"c":2.36},{"i":486,"o":2.36,"h":2.52,"l":2.35,"c":2.5},{"i":487,"o":2.5,"h":2.52,"l":2.46,"c":2.48},{"i":488,"o":2.48,"h":2.57,"l":2.47,"c":2.55},{"i":489,"o":2.55,"h":2.6,"l":2.54,"c":2.58},
{"i":490,"o":2.58,"h":2.62,"l":2.56,"c":2.6},{"i":491,"o":2.6,"h":2.68,"l":2.59,"c":2.66},{"i":492,"o":2.66,"h":2.72,"l":2.64,"c":2.69},{"i":493,"o":2.69,"h":2.9,"l":2.67,"c":2.85},{"i":494,"o":2.85,"h":2.893,"l":2.73,"c":2.753},{"i":495,"o":2.753,"h":3.05,"l":2.74,"c":2.97},{"i":496,"o":2.97,"h":3.195,"l":2.92,"c":3.148},{"i":497,"o":3.148,"h":3.16,"l":2.924,"c":3.032},{"i":498,"o":3.079,"h":3.16,"l":3.02,"c":3.032},{"i":499,"o":3.032,"h":3.21,"l":3.02,"c":3.203},
{"i":500,"o":3.203,"h":3.384,"l":3.16,"c":3.296},{"i":501,"o":3.296,"h":3.397,"l":3.17,"c":3.342},{"i":502,"o":3.345,"h":3.35,"l":3.17,"c":3.234},{"i":503,"o":3.304,"h":3.345,"l":3.22,"c":3.288},{"i":504,"o":3.296,"h":3.32,"l":3.26,"c":3.285},{"i":505,"o":3.296,"h":3.31,"l":3.195,"c":3.242},{"i":506,"o":3.226,"h":3.32,"l":3.2,"c":3.288},{"i":507,"o":3.296,"h":3.31,"l":3.17,"c":3.234},{"i":508,"o":3.234,"h":3.25,"l":3.063,"c":3.11},{"i":509,"o":3.11,"h":3.19,"l":3.09,"c":3.172},
{"i":510,"o":3.172,"h":3.23,"l":3.13,"c":3.211},{"i":511,"o":3.211,"h":3.29,"l":3.16,"c":3.265},{"i":512,"o":3.265,"h":3.28,"l":3.16,"c":3.23},{"i":513,"o":3.242,"h":3.26,"l":3.18,"c":3.211},{"i":514,"o":3.172,"h":3.2,"l":3.02,"c":3.04},{"i":515,"o":3.04,"h":3.2,"l":3.02,"c":3.141},{"i":516,"o":3.218,"h":3.23,"l":2.828,"c":2.947},{"i":517,"o":2.947,"h":3.12,"l":2.93,"c":3.102},{"i":518,"o":3.102,"h":3.24,"l":3.09,"c":3.234},{"i":519,"o":3.234,"h":3.338,"l":3.2,"c":3.319},
{"i":520,"o":3.319,"h":3.362,"l":3.2,"c":3.25},{"i":521,"o":3.25,"h":3.3,"l":3.0,"c":3.148},{"i":522,"o":3.148,"h":3.26,"l":3.03,"c":3.094},{"i":523,"o":3.094,"h":3.18,"l":3.02,"c":3.063},{"i":524,"o":3.063,"h":3.14,"l":3.04,"c":3.102},{"i":525,"o":3.101,"h":3.151,"l":3.088,"c":3.131}
],
"sma":[
{"k":"g","i":0,"v":0.53},{"k":"g","i":35,"v":0.535},{"k":"g","i":50,"v":0.55},{"k":"g","i":70,"v":0.555},{"k":"g","i":80,"v":0.545},{"k":"g","i":90,"v":0.52},{"k":"g","i":100,"v":0.517},{"k":"g","i":120,"v":0.515},{"k":"g","i":140,"v":0.505},{"k":"g","i":150,"v":0.52},{"k":"g","i":165,"v":0.555},{"k":"g","i":176,"v":0.586},{"k":"g","i":182,"v":0.63},{"k":"g","i":189,"v":0.68},{"k":"g","i":195.5,"v":0.77},{"k":"g","i":200.5,"v":0.893},{"k":"g","i":205,"v":1.0},{"k":"g","i":212,"v":1.09},{"k":"g","i":222,"v":1.11},{"k":"g","i":227,"v":1.186},{"k":"g","i":232,"v":1.32},{"k":"g","i":237,"v":1.395},{"k":"g","i":242,"v":1.466},{"k":"g","i":246.5,"v":1.459},{"k":"g","i":249.4,"v":1.423},{"k":"g","i":253.5,"v":1.423},{"k":"g","i":258,"v":1.439},{"k":"g","i":262.1,"v":1.475},{"k":"g","i":266.6,"v":1.606},{"k":"g","i":272.2,"v":1.754},{"k":"g","i":275.2,"v":1.901},{"k":"g","i":277.7,"v":2.056},{"k":"g","i":281.8,"v":2.27},{"k":"g","i":284.8,"v":2.4},{"k":"g","i":287.4,"v":2.5},{"k":"g","i":289.9,"v":2.544},{"k":"g","i":292.4,"v":2.544},{"k":"g","i":295.5,"v":2.46},{"k":"g","i":298,"v":2.4},{"k":"g","i":301,"v":2.38},{"k":"g","i":303,"v":2.39},{"k":"g","i":306,"v":2.43},{"k":"g","i":310,"v":2.465},{"k":"g","i":312.6,"v":2.48},{"k":"g","i":315,"v":2.45},{"k":"g","i":318,"v":2.395},{"k":"g","i":322,"v":2.35},{"k":"g","i":325,"v":2.32},{"k":"g","i":330,"v":2.316},{"k":"g","i":333,"v":2.38},{"k":"g","i":336,"v":2.4},{"k":"g","i":343,"v":2.41},{"k":"g","i":348,"v":2.43},{"k":"g","i":353,"v":2.465},{"k":"g","i":356.2,"v":2.48},{"k":"g","i":363,"v":2.45},{"k":"g","i":366.7,"v":2.39},{"k":"g","i":371.8,"v":2.3},{"k":"g","i":378.8,"v":2.24},{"k":"g","i":381,"v":2.23},{"k":"g","i":386.8,"v":2.235},{"k":"g","i":394,"v":2.256},{"k":"g","i":399,"v":2.245},{"k":"g","i":404,"v":2.21},{"k":"g","i":412,"v":2.16},{"k":"g","i":420,"v":2.12},{"k":"g","i":425,"v":2.1},{"k":"g","i":429,"v":2.15},{"k":"g","i":434,"v":2.29},{"k":"g","i":441,"v":2.41},{"k":"g","i":449,"v":2.42},{"k":"g","i":455,"v":2.4},{"k":"g","i":464.6,"v":2.35},{"k":"g","i":470.6,"v":2.31},{"k":"g","i":474.7,"v":2.335},{"k":"g","i":479.8,"v":2.395},{"k":"g","i":484.8,"v":2.44},{"k":"g","i":490,"v":2.52},{"k":"g","i":495.4,"v":2.62},{"k":"g","i":499,"v":2.74},{"k":"g","i":502,"v":2.91},{"k":"g","i":505,"v":3.08},{"k":"g","i":508,"v":3.125},{"k":"g","i":513,"v":3.23},{"k":"g","i":516,"v":3.22},{"k":"g","i":520,"v":3.19},{"k":"g","i":525,"v":3.15},
{"k":"b","i":0,"v":0.57},{"k":"b","i":12,"v":0.557},{"k":"b","i":20,"v":0.545},{"k":"b","i":35,"v":0.54},{"k":"b","i":70,"v":0.552},{"k":"b","i":81,"v":0.545},{"k":"b","i":104,"v":0.53},{"k":"b","i":128,"v":0.53},{"k":"b","i":145,"v":0.512},{"k":"b","i":165,"v":0.53},{"k":"b","i":176,"v":0.555},{"k":"b","i":182,"v":0.58},{"k":"b","i":189,"v":0.615},{"k":"b","i":196,"v":0.665},{"k":"b","i":205,"v":0.8},{"k":"b","i":212,"v":0.9},{"k":"b","i":222,"v":1.015},{"k":"b","i":227,"v":1.08},{"k":"b","i":232,"v":1.155},{"k":"b","i":236.4,"v":1.219},{"k":"b","i":246.5,"v":1.296},{"k":"b","i":258.6,"v":1.397},{"k":"b","i":266.6,"v":1.521},{"k":"b","i":272.2,"v":1.563},{"k":"b","i":276.8,"v":1.668},{"k":"b","i":279.8,"v":1.761},{"k":"b","i":285.9,"v":1.947},{"k":"b","i":291,"v":2.056},{"k":"b","i":298,"v":2.21},{"k":"b","i":303,"v":2.335},{"k":"b","i":308,"v":2.395},{"k":"b","i":311,"v":2.45},{"k":"b","i":313,"v":2.47},{"k":"b","i":317,"v":2.45},{"k":"b","i":322,"v":2.41},{"k":"b","i":328,"v":2.385},{"k":"b","i":333,"v":2.39},{"k":"b","i":338,"v":2.4},{"k":"b","i":343,"v":2.39},{"k":"b","i":349,"v":2.377},{"k":"b","i":354,"v":2.41},{"k":"b","i":360,"v":2.43},{"k":"b","i":363,"v":2.425},{"k":"b","i":368.7,"v":2.4},{"k":"b","i":373.8,"v":2.39},{"k":"b","i":383.8,"v":2.335},{"k":"b","i":394,"v":2.29},{"k":"b","i":399,"v":2.25},{"k":"b","i":407,"v":2.23},{"k":"b","i":414,"v":2.21},{"k":"b","i":424,"v":2.17},{"k":"b","i":429,"v":2.177},{"k":"b","i":434,"v":2.2},{"k":"b","i":444.5,"v":2.25},{"k":"b","i":454.5,"v":2.3},{"k":"b","i":460.6,"v":2.35},{"k":"b","i":465.6,"v":2.38},{"k":"b","i":474.7,"v":2.37},{"k":"b","i":484.8,"v":2.39},{"k":"b","i":490,"v":2.41},{"k":"b","i":495,"v":2.48},{"k":"b","i":499,"v":2.55},{"k":"b","i":503,"v":2.62},{"k":"b","i":509,"v":2.77},{"k":"b","i":516,"v":2.9},{"k":"b","i":525,"v":3.02},
{"k":"r","i":0,"v":0.583},{"k":"r","i":35,"v":0.56},{"k":"r","i":58,"v":0.552},{"k":"r","i":93,"v":0.545},{"k":"r","i":128,"v":0.532},{"k":"r","i":145,"v":0.525},{"k":"r","i":165,"v":0.525},{"k":"r","i":176,"v":0.54},{"k":"r","i":182,"v":0.55},{"k":"r","i":195.5,"v":0.59},{"k":"r","i":205,"v":0.66},{"k":"r","i":212,"v":0.72},{"k":"r","i":222,"v":0.79},{"k":"r","i":227,"v":0.84},{"k":"r","i":232,"v":0.895},{"k":"r","i":236.4,"v":0.937},{"k":"r","i":246.5,"v":1.048},{"k":"r","i":261.6,"v":1.203},{"k":"r","i":271.7,"v":1.343},{"k":"r","i":278.8,"v":1.482},{"k":"r","i":285.9,"v":1.614},{"k":"r","i":297,"v":1.777},{"k":"r","i":305,"v":1.909},{"k":"r","i":313.2,"v":2.009},{"k":"r","i":317.2,"v":2.044},{"k":"r","i":323,"v":2.125},{"k":"r","i":328,"v":2.186},{"k":"r","i":333,"v":2.256},{"k":"r","i":338,"v":2.32},{"k":"r","i":343,"v":2.36},{"k":"r","i":348,"v":2.39},{"k":"r","i":353,"v":2.43},{"k":"r","i":356,"v":2.44},{"k":"r","i":363,"v":2.42},{"k":"r","i":373.8,"v":2.39},{"k":"r","i":383.8,"v":2.367},{"k":"r","i":394,"v":2.34},{"k":"r","i":401,"v":2.34},{"k":"r","i":412,"v":2.31},{"k":"r","i":424,"v":2.256},{"k":"r","i":434,"v":2.24},{"k":"r","i":444.5,"v":2.246},{"k":"r","i":456.5,"v":2.265},{"k":"r","i":464.6,"v":2.27},{"k":"r","i":474.7,"v":2.28},{"k":"r","i":484.8,"v":2.32},{"k":"r","i":490,"v":2.35},{"k":"r","i":495,"v":2.38},{"k":"r","i":505,"v":2.5},{"k":"r","i":514.5,"v":2.62},{"k":"r","i":517.5,"v":2.645},{"k":"r","i":525,"v":2.71},
{"k":"p","i":0,"v":0.585},{"k":"p","i":35,"v":0.57},{"k":"p","i":70,"v":0.56},{"k":"p","i":104,"v":0.553},{"k":"p","i":128,"v":0.54},{"k":"p","i":145,"v":0.527},{"k":"p","i":165,"v":0.525},{"k":"p","i":176,"v":0.54},{"k":"p","i":182,"v":0.545},{"k":"p","i":196,"v":0.57},{"k":"p","i":205,"v":0.6},{"k":"p","i":212,"v":0.635},{"k":"p","i":222,"v":0.675},{"k":"p","i":232,"v":0.725},{"k":"p","i":242,"v":0.775},{"k":"p","i":252,"v":0.82},{"k":"p","i":257.6,"v":0.847},{"k":"p","i":271.7,"v":0.955},{"k":"p","i":279.7,"v":1.064},{"k":"p","i":286.8,"v":1.15},{"k":"p","i":296.9,"v":1.25},{"k":"p","i":309,"v":1.397},{"k":"p","i":322,"v":1.513},{"k":"p","i":337.4,"v":1.684},{"k":"p","i":352.5,"v":1.862},{"k":"p","i":365.8,"v":1.978},{"k":"p","i":372.8,"v":2.033},{"k":"p","i":383.8,"v":2.09},{"k":"p","i":394,"v":2.17},{"k":"p","i":404,"v":2.22},{"k":"p","i":414,"v":2.256},{"k":"p","i":424.2,"v":2.3},{"k":"p","i":434,"v":2.335},{"k":"p","i":440,"v":2.34},{"k":"p","i":454.5,"v":2.325},{"k":"p","i":464.6,"v":2.32},{"k":"p","i":474.7,"v":2.31},{"k":"p","i":484.8,"v":2.325},{"k":"p","i":495,"v":2.36},{"k":"p","i":505,"v":2.4},{"k":"p","i":515,"v":2.44},{"k":"p","i":525,"v":2.475}
],
"boxes":[
{"k":"edge","x":0,"x2":0.7,"y":3.823,"y2":0.451},
{"k":"pillA","x":82.1,"x2":87.9,"y":3.791,"y2":3.707},
{"k":"pillB","x":87.9,"x2":93.6,"y":3.791,"y2":3.707},
{"k":"up","x":527.3,"x2":544.5,"y":3.163,"y2":3.023},
{"k":"logoD","x":516.4,"x2":520,"y":3.7735,"y2":3.718},
{"k":"logoL","x":520,"x2":528.5,"y":3.7735,"y2":3.718},
{"k":"logoL","x":520.9,"x2":524.8,"y":3.718,"y2":3.572},
{"k":"logoL","x":530,"x2":533.9,"y":3.7735,"y2":3.665},
{"k":"logoL","x":538.5,"x2":542.1,"y":3.718,"y2":3.665},
{"k":"logoD","x":538.5,"x2":542.1,"y":3.7735,"y2":3.718}
],
"paths":[
{"p":"uu","k":"logoL","n":1,"x":531.9,"y":3.665},{"p":"uu","k":"logoL","n":2,"x":532.5,"y":3.633},{"p":"uu","k":"logoL","n":3,"x":534,"y":3.61},{"p":"uu","k":"logoL","n":4,"x":536.1,"y":3.601},{"p":"uu","k":"logoL","n":5,"x":538.2,"y":3.61},{"p":"uu","k":"logoL","n":6,"x":539.7,"y":3.633},{"p":"uu","k":"logoL","n":7,"x":540.3,"y":3.665}
],
"thin":[
{"p":"chev","k":"ink","n":1,"x":6.1,"y":3.181},{"p":"chev","k":"ink","n":2,"x":7.6,"y":3.205},{"p":"chev","k":"ink","n":3,"x":9.1,"y":3.181},
{"p":"share","k":"purple","n":1,"x":91.5,"y":3.772},{"p":"share","k":"purple","n":2,"x":89.4,"y":3.747},{"p":"share","k":"purple","n":3,"x":91.5,"y":3.721},
{"p":"arc1","k":"purple","n":1,"x":522.6,"y":0.525},{"p":"arc1","k":"purple","n":2,"x":523.6,"y":0.548},{"p":"arc1","k":"purple","n":3,"x":525,"y":0.558},{"p":"arc1","k":"purple","n":4,"x":526.3,"y":0.556},
{"p":"arc2","k":"purple","n":1,"x":522.3,"y":0.484},{"p":"arc2","k":"purple","n":2,"x":523.3,"y":0.47},{"p":"arc2","k":"purple","n":3,"x":525,"y":0.462},{"p":"arc2","k":"purple","n":4,"x":526.8,"y":0.475},
{"p":"bolt","k":"purple","n":1,"x":525.8,"y":0.53},{"p":"bolt","k":"purple","n":2,"x":523.9,"y":0.5},{"p":"bolt","k":"purple","n":3,"x":525.8,"y":0.507},{"p":"bolt","k":"purple","n":4,"x":523.9,"y":0.479}
],
"dots":[
{"g":"big","k":"ink","x":6.1,"y":3.744},
{"g":"mid","k":"up","x":85.2,"y":3.744},
{"g":"small","k":"purple","x":91.5,"y":3.772},{"g":"small","k":"purple","x":89.4,"y":3.747},{"g":"small","k":"purple","x":91.5,"y":3.721},
{"g":"mid","k":"purple","x":521.5,"y":0.493},
{"g":"small","k":"red","x":526.7,"y":0.544}
],
"labels":[
{"g":"head","k":"ink","x":10.4,"y":3.74,"t":"XRP / U.S. Dollar · 4h · BINANCE"},
{"g":"mark","k":"white","x":6.1,"y":3.744,"t":"X"},
{"g":"body","k":"ink","x":99.1,"y":3.74,"t":"O"},{"g":"body","k":"up","x":102.1,"y":3.74,"t":"3.1101"},
{"g":"body","k":"ink","x":115.8,"y":3.74,"t":"H"},{"g":"body","k":"up","x":118.8,"y":3.74,"t":"3.1508"},
{"g":"body","k":"ink","x":132.6,"y":3.74,"t":"L"},{"g":"body","k":"up","x":134.8,"y":3.74,"t":"3.1017"},
{"g":"body","k":"ink","x":148.8,"y":3.74,"t":"C"},{"g":"body","k":"up","x":151.5,"y":3.74,"t":"3.1306"},
{"g":"body","k":"up","x":165.2,"y":3.74,"t":"+0.0205"},{"g":"body","k":"up","x":180.6,"y":3.74,"t":"(+0.66%)"},
{"g":"sma","k":"muted","x":3.3,"y":3.63,"t":"SMA 20 close"},{"g":"sma","k":"muted","x":3.3,"y":3.52,"t":"SMA 50 close"},{"g":"sma","k":"muted","x":3.3,"y":3.408,"t":"SMA 100 close"},{"g":"sma","k":"muted","x":3.3,"y":3.3,"t":"SMA 200 close"},
{"g":"tag","k":"white","x":529.9,"y":3.125,"t":"3.1306"},{"g":"tag","k":"soft","x":529.9,"y":3.057,"t":"01:41:24"}
],
"hlines":[{"k":"up","v":3.1306,"g":"price"},{"k":"edge","v":0.4555,"g":"base"}],
"chevbox":[{"x":3.3,"x2":11.8,"y":3.242,"y2":3.144}]
},
"layer":[
{"data":{"name":"hlines"},"transform":[{"filter":"datum.g=='base'"}],"mark":{"type":"rule","color":"#e0e3eb"},
"encoding":{"y":{"field":"v","type":"quantitative","scale":{"domain":[0.4512,3.8233],"nice":false,"zero":false},
"axis":{"orient":"right","title":null,"values":[0.6,0.8,1,1.2,1.4,1.6,1.8,2,2.2,2.4,2.6,2.8,3,3.2,3.4,3.6,3.8],"format":".4f","domain":false,"ticks":false,"labelPadding":9,"labelFont":"Lato","labelFontSize":13.5,"labelColor":"#4a4d57","gridColor":"#f1f2f5","grid":true,"labelOverlap":false,"labelFlush":false}}}},
{"data":{"name":"boxes"},"transform":[{"filter":"datum.k=='edge'"}],"mark":{"type":"rect"},
"encoding":{"x":{"field":"x","type":"quantitative","scale":{"domain":[0,527.27],"nice":false,"zero":false},
"axis":{"orient":"bottom","title":null,"values":[31.8,66.4,91.2,121.2,145.8,170.3,205.2,239.7,269.4,309.1,343.9,378.5,423.3,447.9,482.7,517.3],"labels":false,"domain":false,"ticks":false,"gridColor":"#f1f2f5","grid":true}},
"x2":{"field":"x2"},"y":{"field":"y","type":"quantitative"},"y2":{"field":"y2"},"color":{"value":"#e3e7f1"}}},
{"data":{"name":"hlines"},"transform":[{"filter":"datum.g=='price'"}],"mark":{"type":"rule","color":"#089981","strokeDash":[1,3],"strokeWidth":1},
"encoding":{"y":{"field":"v","type":"quantitative"}}},
{"data":{"name":"candles"},"mark":{"type":"rule","strokeWidth":1,"opacity":0.6},
"encoding":{"x":{"field":"i","type":"quantitative"},"y":{"field":"l","type":"quantitative"},"y2":{"field":"h"},
"color":{"condition":{"test":"datum.c>=datum.o","value":"#089981"},"value":"#f23645"}}},
{"data":{"name":"candles"},"mark":{"type":"rule","strokeWidth":3,"strokeCap":"butt"},
"encoding":{"x":{"field":"i","type":"quantitative"},"y":{"field":"o","type":"quantitative"},"y2":{"field":"c"},
"color":{"condition":{"test":"datum.c>=datum.o","value":"#089981"},"value":"#f23645"}}},
{"data":{"name":"sma"},"mark":{"type":"line","strokeWidth":1.5,"opacity":0.78,"interpolate":"monotone"},
"encoding":{"x":{"field":"i","type":"quantitative"},"y":{"field":"v","type":"quantitative"},"detail":{"field":"k"},
"color":{"field":"k","type":"nominal","legend":null,"scale":{"domain":["g","b","r","p","ink","muted","up","white","soft","purple","red","logoL","logoD","pillA","pillB","edge"],"range":["#72bd72","#4a4dff","#ff5560","#b84dff","#131722","#6a6d78","#089981","#ffffff","#b5e6dc","#ab47bc","#f23645","#73ad1c","#4f8a06","#d9f1ed","#eeddf3","#e3e7f1"]}}}},
{"data":{"name":"boxes"},"transform":[{"filter":"datum.k=='pillA'"}],"mark":{"type":"rect","cornerRadiusTopLeft":8,"cornerRadiusBottomLeft":8},
"encoding":{"x":{"field":"x","type":"quantitative"},"x2":{"field":"x2"},"y":{"field":"y","type":"quantitative"},"y2":{"field":"y2"},"color":{"field":"k","type":"nominal","legend":null}}},
{"data":{"name":"boxes"},"transform":[{"filter":"datum.k=='pillB'"}],"mark":{"type":"rect","cornerRadiusTopRight":8,"cornerRadiusBottomRight":8},
"encoding":{"x":{"field":"x","type":"quantitative"},"x2":{"field":"x2"},"y":{"field":"y","type":"quantitative"},"y2":{"field":"y2"},"color":{"field":"k","type":"nominal","legend":null}}},
{"data":{"name":"boxes"},"transform":[{"filter":"datum.k=='up'"}],"mark":{"type":"rect","cornerRadius":2},
"encoding":{"x":{"field":"x","type":"quantitative"},"x2":{"field":"x2"},"y":{"field":"y","type":"quantitative"},"y2":{"field":"y2"},"color":{"field":"k","type":"nominal","legend":null}}},
{"data":{"name":"boxes"},"transform":[{"filter":"datum.k=='logoL'||datum.k=='logoD'"}],"mark":{"type":"rect"},
"encoding":{"x":{"field":"x","type":"quantitative"},"x2":{"field":"x2"},"y":{"field":"y","type":"quantitative"},"y2":{"field":"y2"},"color":{"field":"k","type":"nominal","legend":null}}},
{"data":{"name":"paths"},"mark":{"type":"line","strokeWidth":13,"strokeCap":"butt","interpolate":"monotone"},
"encoding":{"x":{"field":"x","type":"quantitative"},"y":{"field":"y","type":"quantitative"},"order":{"field":"n"},"color":{"field":"k","type":"nominal","legend":null}}},
{"data":{"name":"chevbox"},"mark":{"type":"rect","fill":"white","stroke":"#d1d4dc","cornerRadius":3},
"encoding":{"x":{"field":"x","type":"quantitative"},"x2":{"field":"x2"},"y":{"field":"y","type":"quantitative"},"y2":{"field":"y2"}}},
{"data":{"name":"thin"},"mark":{"type":"line","strokeWidth":1.6},
"encoding":{"x":{"field":"x","type":"quantitative"},"y":{"field":"y","type":"quantitative"},"detail":{"field":"p"},"order":{"field":"n"},"color":{"field":"k","type":"nominal","legend":null}}},
{"data":{"name":"dots"},"transform":[{"filter":"datum.g=='big'"}],"mark":{"type":"circle","size":314,"opacity":1},
"encoding":{"x":{"field":"x","type":"quantitative"},"y":{"field":"y","type":"quantitative"},"color":{"field":"k","type":"nominal","legend":null}}},
{"data":{"name":"dots"},"transform":[{"filter":"datum.g=='mid'"}],"mark":{"type":"circle","size":42,"opacity":1},
"encoding":{"x":{"field":"x","type":"quantitative"},"y":{"field":"y","type":"quantitative"},"color":{"field":"k","type":"nominal","legend":null}}},
{"data":{"name":"dots"},"transform":[{"filter":"datum.g=='small'"}],"mark":{"type":"circle","size":16,"opacity":1},
"encoding":{"x":{"field":"x","type":"quantitative"},"y":{"field":"y","type":"quantitative"},"color":{"field":"k","type":"nominal","legend":null}}},
{"data":{"name":"labels"},"transform":[{"filter":"datum.g=='head'"}],"mark":{"type":"text","align":"left","baseline":"middle","font":"Lato","fontSize":15.4},
"encoding":{"x":{"field":"x","type":"quantitative"},"y":{"field":"y","type":"quantitative"},"text":{"field":"t"},"color":{"field":"k","type":"nominal","legend":null}}},
{"data":{"name":"labels"},"transform":[{"filter":"datum.g=='mark'"}],"mark":{"type":"text","align":"center","baseline":"middle","font":"Lato","fontSize":14,"fontWeight":"bold"},
"encoding":{"x":{"field":"x","type":"quantitative"},"y":{"field":"y","type":"quantitative"},"text":{"field":"t"},"color":{"field":"k","type":"nominal","legend":null}}},
{"data":{"name":"labels"},"transform":[{"filter":"datum.g=='body'"}],"mark":{"type":"text","align":"left","baseline":"middle","font":"Lato","fontSize":13},
"encoding":{"x":{"field":"x","type":"quantitative"},"y":{"field":"y","type":"quantitative"},"text":{"field":"t"},"color":{"field":"k","type":"nominal","legend":null}}},
{"data":{"name":"labels"},"transform":[{"filter":"datum.g=='sma'"}],"mark":{"type":"text","align":"left","baseline":"middle","font":"Lato","fontSize":12.6},
"encoding":{"x":{"field":"x","type":"quantitative"},"y":{"field":"y","type":"quantitative"},"text":{"field":"t"},"color":{"field":"k","type":"nominal","legend":null}}},
{"data":{"name":"labels"},"transform":[{"filter":"datum.g=='tag'"}],"mark":{"type":"text","align":"left","baseline":"middle","font":"Lato","fontSize":12.4},
"encoding":{"x":{"field":"x","type":"quantitative"},"y":{"field":"y","type":"quantitative"},"text":{"field":"t"},"color":{"field":"k","type":"nominal","legend":null}}}
]
}
